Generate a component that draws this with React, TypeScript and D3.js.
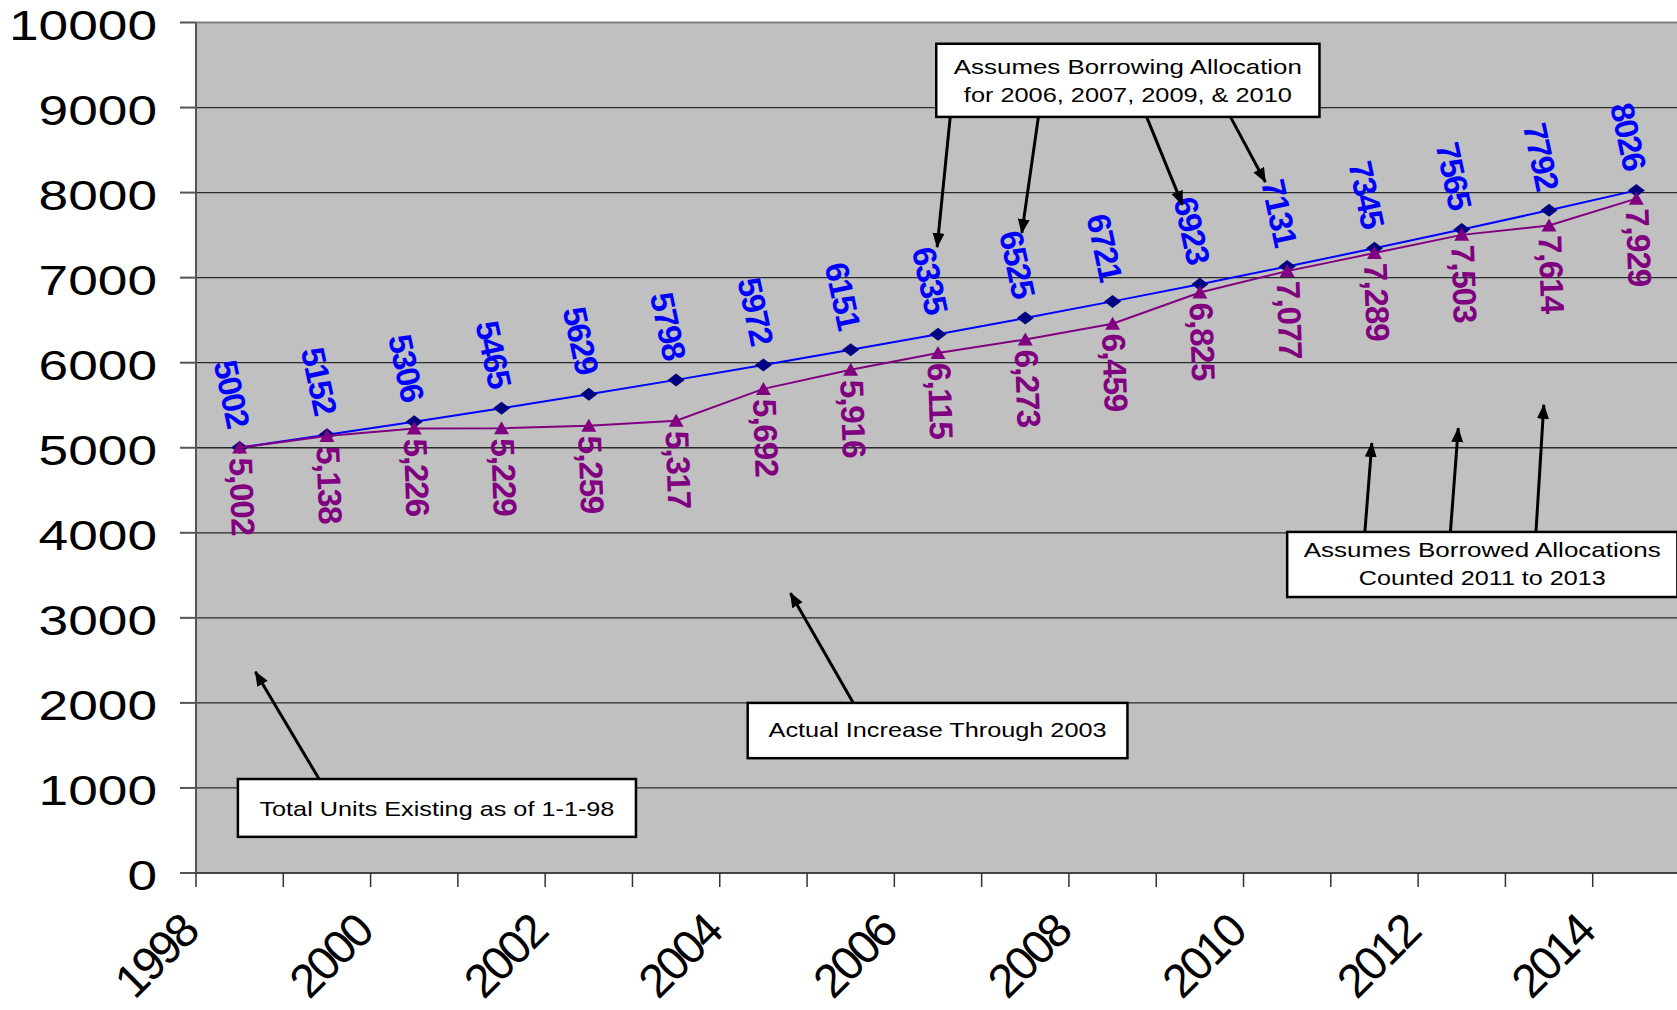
import * as d3 from "d3";

// Housing units, planned (with borrowing) vs actual
const years = [1998, 1999, 2000, 2001, 2002, 2003, 2004, 2005, 2006, 2007, 2008, 2009, 2010, 2011, 2012, 2013, 2014];
const planned = [5002, 5152, 5306, 5465, 5629, 5798, 5972, 6151, 6335, 6525, 6721, 6923, 7131, 7345, 7565, 7792, 8026];
const actual = [5002, 5138, 5226, 5229, 5259, 5317, 5692, 5916, 6115, 6273, 6459, 6825, 7077, 7289, 7503, 7614, 7929];
const yTicks = [0, 1000, 2000, 3000, 4000, 5000, 6000, 7000, 8000, 9000, 10000];
const xTickLabels = [1998, 2000, 2002, 2004, 2006, 2008, 2010, 2012, 2014];

// callout boxes, in data units (year, units)
const boxes = [
  { x0: 2005.98, x1: 2010.37, y0: 8890, y1: 9750, lines: ["Assumes Borrowing Allocation", "for 2006, 2007, 2009, & 2010"], lineY: [9400, 9060], widths: [348, 328] },
  { x0: 2010.0, x1: 2014.47, y0: 3245, y1: 4010, lines: ["Assumes Borrowed Allocations", "Counted 2011 to 2013"], lineY: [3715, 3385], widths: [357, 247] },
  { x0: 2003.82, x1: 2008.17, y0: 1350, y1: 2000, lines: ["Actual Increase Through 2003"], lineY: [1600], widths: [338] },
  { x0: 1997.98, x1: 2002.54, y0: 425, y1: 1105, lines: ["Total Units Existing as of 1-1-98"], lineY: [670], widths: [355] },
];

const arrows = [
  { from: [2006.14, 8890], to: [2005.99, 7360] },
  { from: [2007.15, 8890], to: [2006.96, 7525] },
  { from: [2008.39, 8890], to: [2008.8, 7855] },
  { from: [2009.35, 8890], to: [2009.75, 8125] },
  { from: [2010.89, 4010], to: [2010.97, 5055] },
  { from: [2011.87, 4010], to: [2011.96, 5230] },
  { from: [2012.85, 4010], to: [2012.94, 5505] },
  { from: [2005.03, 2000], to: [2004.31, 3290] },
  { from: [1998.91, 1105], to: [1998.18, 2365] },
];

const W = 1677;
const H = 1010;
const left = 196;
const top = 22.5;
const bottom = 873;
const FONT = "'Liberation Sans', Arial, sans-serif";

export default function App() {
  const x = d3.scaleLinear().domain([1997.5, 2014.5]).range([left, 1680]);
  const y = d3.scaleLinear().domain([0, 10000]).range([bottom, top]);

  const line = d3
    .line<number>()
    .x((_, i) => x(years[i]))
    .y((d) => y(d));

  const fmt = d3.format(",");

  return (
    <div style={{ position: "absolute", left: 0, top: 0 }}>
      <svg width={W} height={H} style={{ display: "block", background: "#fff", fontFamily: FONT }}>
        <defs>
          <marker id="head" markerUnits="userSpaceOnUse" markerWidth={16} markerHeight={14} refX={14} refY={6} orient="auto">
            <path d="M0,0L15,6L0,12Z" fill="#000" />
          </marker>
        </defs>

        {/* plot area */}
        <rect x={left} y={top} width={W - left} height={bottom - top} fill="#c0c0c0" />

        {/* gridlines */}
        {yTicks.filter((t) => t > 0 && t < 10000).map((t) => (
          <line key={t} x1={left} x2={W} y1={y(t)} y2={y(t)} stroke="#2a2a2a" strokeWidth={1.3} />
        ))}
        <line x1={left} x2={W} y1={y(10000)} y2={y(10000)} stroke="#808080" strokeWidth={2} />

        {/* y axis */}
        <line x1={left} x2={left} y1={top} y2={bottom} stroke="#555" strokeWidth={2} />
        {yTicks.map((t) => (
          <g key={t}>
            <line x1={left - 16} x2={left} y1={y(t)} y2={y(t)} stroke="#555" strokeWidth={2} />
            <text
              x={157}
              y={y(t) + 17}
              textAnchor="end"
              fontSize={42}
              fill="#000"
              textLength={String(t).length * 29.6}
              lengthAdjust="spacingAndGlyphs"
            >
              {t}
            </text>
          </g>
        ))}

        {/* x axis */}
        <line x1={left} x2={W} y1={bottom} y2={bottom} stroke="#444" strokeWidth={2} />
        {years.map((yr) => (
          <line key={yr} x1={x(yr - 0.5)} x2={x(yr - 0.5)} y1={bottom} y2={bottom + 14} stroke="#333" strokeWidth={1.5} />
        ))}
        {xTickLabels.map((yr) => (
          <text
            key={yr}
            transform={`translate(${x(yr - 0.5) + 4},${bottom + 62}) rotate(-45)`}
            textAnchor="end"
            fontSize={47}
            letterSpacing={-3}
            fill="#000"
          >
            {yr}
          </text>
        ))}

        {/* planned series */}
        <path d={line(planned) ?? ""} fill="none" stroke="#0000ff" strokeWidth={2} />
        {planned.map((v, i) => {
          const cx = x(years[i]);
          const cy = y(v);
          return (
            <path key={i} d={`M${cx - 8.5},${cy}L${cx},${cy - 6.5}L${cx + 8.5},${cy}L${cx},${cy + 6.5}Z`} fill="#000080" />
          );
        })}

        {/* actual series */}
        <path d={line(actual) ?? ""} fill="none" stroke="#800080" strokeWidth={2} />
        {actual.map((v, i) => {
          const cx = x(years[i]);
          const cy = y(v);
          return <path key={i} d={`M${cx},${cy - 7}L${cx + 7.5},${cy + 6}L${cx - 7.5},${cy + 6}Z`} fill="#800080" />;
        })}

        {/* data labels */}
        {planned.map((v, i) => (
          <text
            key={i}
            transform={`translate(${x(years[i]) - 1},${y(v) - 21}) rotate(78)`}
            textAnchor="end"
            dominantBaseline="central"
            fontSize={33}
            fontWeight="bold"
            letterSpacing={-1.5}
            fill="#0000ff"
          >
            {v}
          </text>
        ))}
        {actual.map((v, i) => (
          <text
            key={i}
            transform={`translate(${x(years[i]) + 1},${y(v) + 10}) rotate(88)`}
            textAnchor="start"
            dominantBaseline="central"
            fontSize={33}
            fontWeight="bold"
            letterSpacing={-1}
            fill="#800080"
          >
            {fmt(v)}
          </text>
        ))}

        {/* callouts */}
        {arrows.map((a, i) => (
          <line
            key={i}
            x1={x(a.from[0])}
            y1={y(a.from[1])}
            x2={x(a.to[0])}
            y2={y(a.to[1])}
            stroke="#000"
            strokeWidth={3}
            markerEnd="url(#head)"
          />
        ))}
        {boxes.map((b, i) => {
          const cx = (x(b.x0) + x(b.x1)) / 2;
          return (
            <g key={i}>
              <rect
                x={x(b.x0)}
                y={y(b.y1)}
                width={x(b.x1) - x(b.x0)}
                height={y(b.y0) - y(b.y1)}
                fill="#fff"
                stroke="#000"
                strokeWidth={2.5}
              />
              {b.lines.map((t, j) => (
                <text
                  key={j}
                  x={cx}
                  y={y(b.lineY[j])}
                  textAnchor="middle"
                  fontSize={21}
                  fill="#000"
                  textLength={b.widths[j]}
                  lengthAdjust="spacingAndGlyphs"
                >
                  {t}
                </text>
              ))}
            </g>
          );
        })}
      </svg>
    </div>
  );
}
